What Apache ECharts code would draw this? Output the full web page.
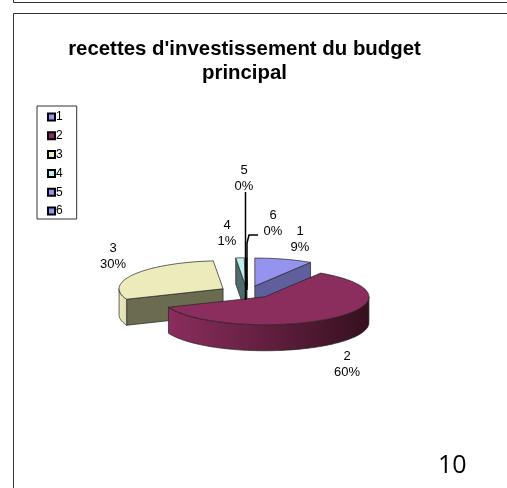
<!DOCTYPE html>
<html>
<head>
<meta charset="utf-8">
<title>recettes d'investissement</title>
<script src="https://cdn.jsdelivr.net/npm/echarts@6/dist/echarts.min.js"></script>
<style>
  html, body { margin: 0; padding: 0; background: #fff; }
  #chart { width: 507px; height: 488px; }
</style>
</head>
<body>
<div id="chart"></div>
<script>
const categories = ['1', '2', '3', '4', '5', '6']
const values = [9, 59.9, 29.6, 1.3, 0.1, 0.1]

const topColors = ['#9494ee', '#8b2d5d', '#ebebbb', '#bdeeee', '#9494ee', '#9494ee']
const faceColors = ['#5f5f9e', '#5a1d3c', '#6b6b50', '#4f6b6b', '#5f5f9e', '#5f5f9e']
const rimLight = ['#9494ee', '#8b2d5d', '#ebebbb', '#bdeeee', '#9494ee', '#9494ee']
const rimDark = ['#5f5f9e', '#36101f', '#dcdcb0', '#4f6b6b', '#5f5f9e', '#5f5f9e']
// the maroon slice sits in front of the others
const drawOrder = [3, 5, 3, 3, 3, 3]

const labelPos = [[300, 239], [347, 364], [113, 256], [227, 233], [244, 178], [273, 223]]

const pie = { cx: 247, cy: 292, rx: 104, ry: 28, depth: 26, explodeX: 28, explodeY: 6.2 }
const total = values.reduce((a, b) => a + b, 0)

function pt (c, a) {
  return [c[0] + pie.rx * Math.sin(a), c[1] - pie.ry * Math.cos(a)]
}

function arcPoints (c, a0, a1) {
  let n = Math.max(2, Math.ceil(Math.abs(a1 - a0) / 0.03))
  let out = []
  for (let i = 0; i <= n; i++) {
    out.push(pt(c, a0 + (a1 - a0) * i / n))
  }
  return out
}

function quad (p, q, depth, fill) {
  return {
    type: 'polygon',
    shape: { points: [p, q, [q[0], q[1] + depth], [p[0], p[1] + depth]] },
    style: { fill: fill, stroke: '#222', lineWidth: 0.7 }
  }
}

function renderSlice (i, startValue, api) {
  let v = api.value(0)
  let a0 = startValue / total * Math.PI * 2
  let a1 = (startValue + v) / total * Math.PI * 2
  let mid = (a0 + a1) / 2
  let c = [pie.cx + pie.explodeX * Math.sin(mid), pie.cy - pie.explodeY * Math.cos(mid)]
  let children = []

  // radial walls, only the ones turned toward the viewer
  if (Math.cos(a0 - Math.PI / 2) < 0) children.push(quad(c, pt(c, a0), pie.depth, faceColors[i]))
  if (Math.cos(a1 + Math.PI / 2) < 0) children.push(quad(c, pt(c, a1), pie.depth, faceColors[i]))

  // outer rim, the part between 90 and 270 degrees is what faces front
  let r0 = Math.max(a0, Math.PI / 2)
  let r1 = Math.min(a1, Math.PI * 1.5)
  if (r1 > r0) {
    let arc = arcPoints(c, r0, r1)
    let lower = arc.map(p => [p[0], p[1] + pie.depth]).reverse()
    children.push({
      type: 'polygon',
      shape: { points: arc.concat(lower) },
      style: {
        fill: new echarts.graphic.LinearGradient(1, 0, 0, 0, [
          { offset: 0, color: rimDark[i] },
          { offset: 1, color: rimLight[i] }
        ]),
        stroke: '#222',
        lineWidth: 0.7
      }
    })
  }

  // top face
  children.push({
    type: 'polygon',
    shape: { points: [c].concat(arcPoints(c, a0, a1)) },
    style: { fill: topColors[i], stroke: '#222', lineWidth: 0.7 }
  })
  return { type: 'group', children: children }
}

let cumulative = 0
const series = categories.map((name, i) => {
  let start = cumulative
  cumulative += values[i]
  return {
    name: name,
    type: 'custom',
    coordinateSystem: 'none',
    z: drawOrder[i],
    silent: true,
    itemStyle: { color: topColors[i], borderColor: '#000', borderWidth: 2 },
    data: [[values[i]]],
    renderItem: (params, api) => renderSlice(i, start, api)
  }
})

// labels, centred on their anchor
const labelElements = categories.map((name, i) => ({
  type: 'text',
  x: labelPos[i][0],
  y: labelPos[i][1],
  z: 20,
  style: {
    text: name + '\n' + Math.round(values[i] / total * 100) + '%',
    fill: '#000',
    font: '13px "Liberation Sans", Arial, sans-serif',
    lineHeight: 16,
    align: 'center',
    verticalAlign: 'middle'
  }
}))

const chart = echarts.init(document.getElementById('chart'), null, { renderer: 'canvas' })
chart.setOption({
  animation: false,
  backgroundColor: '#fff',
  title: {
    text: "recettes d'investissement du budget\nprincipal",
    left: 239.5,
    top: 33,
    textAlign: 'center',
    textStyle: {
      fontFamily: '"Liberation Sans", Arial, sans-serif',
      fontSize: 20.4,
      fontWeight: 'bold',
      color: '#000',
      lineHeight: 23.5
    }
  },
  legend: {
    orient: 'vertical',
    left: 37,
    top: 106,
    padding: [5, 14, 2, 10],
    itemGap: 6.8,
    itemWidth: 7,
    itemHeight: 7,
    borderColor: '#333',
    borderWidth: 1,
    selectedMode: false,
    icon: 'rect',
    data: categories,
    textStyle: {
      fontFamily: '"Liberation Sans", Arial, sans-serif',
      fontSize: 12,
      color: '#000',
      padding: [0, 0, 0, -4]
    }
  },
  graphic: {
    elements: [
      { type: 'rect', shape: { x: 13.5, y: -10, width: 600, height: 12.5 }, style: { fill: 'none', stroke: '#333', lineWidth: 1 }, silent: true },
      { type: 'rect', shape: { x: 13.5, y: 13.5, width: 600, height: 490 }, style: { fill: 'none', stroke: '#333', lineWidth: 1 }, silent: true },
      { type: 'line', z: 15, shape: { x1: 245.5, y1: 192, x2: 245.5, y2: 300 }, style: { stroke: '#000', lineWidth: 1.5 } },
      { type: 'polyline', z: 15, shape: { points: [[258, 235], [249, 235], [247, 243], [247, 290]] }, style: { fill: 'none', stroke: '#000', lineWidth: 1.5 } },
      { type: 'text', left: 438, top: 453, style: { text: '10', fill: '#000', font: '25px "Open Sans", sans-serif' } }
    ].concat(labelElements)
  },
  series: series
})
</script>
</body>
</html>
